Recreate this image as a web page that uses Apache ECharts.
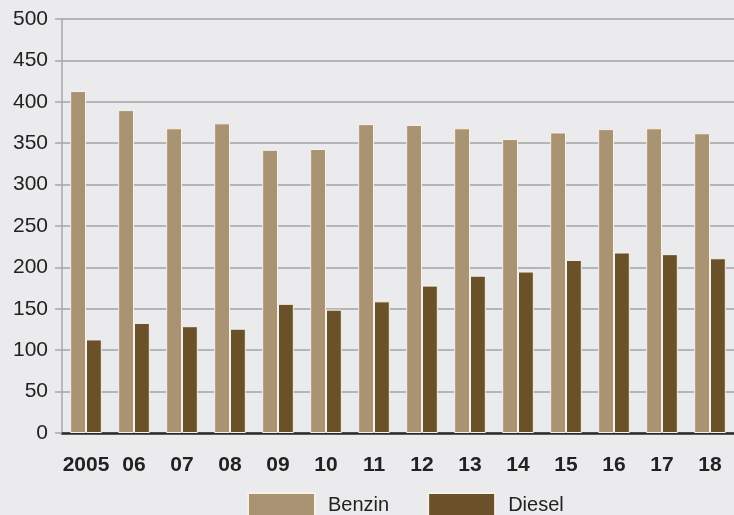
<!DOCTYPE html>
<html>
<head>
<meta charset="utf-8">
<script src="https://cdn.jsdelivr.net/npm/echarts@6/dist/echarts.min.js"></script>
<style>
html,body{margin:0;padding:0;background:#ebebed;}
#c{width:734px;height:515px;}
</style>
</head>
<body>
<div id="c"></div>
<script>
const categories = ['2005','06','07','08','09','10','11','12','13','14','15','16','17','18'];
const benzin = [413,390,368,374,342,343,373,372,368,355,363,367,368,362];
const diesel = [113,133,129,126,156,149,159,178,190,195,209,218,216,211];
const seriesNames = ['Benzin','Diesel'];

const chart = echarts.init(document.getElementById('c'));
const font = '"Liberation Sans", Arial, sans-serif';
chart.setOption({
  backgroundColor: '#ebebed',
  animation: false,
  textStyle: {fontFamily: font},
  grid: {left: 62, right: -6, top: 19, bottom: 82, containLabel: false},
  legend: {
    left: 247, top: 492, padding: 0,
    icon: 'rect', itemWidth: 67, itemHeight: 24, itemGap: 38,
    textStyle: {fontSize: 20, color: '#222', fontFamily: font, padding: [0,0,0,8]},
    data: seriesNames
  },
  xAxis: {
    type: 'category', data: categories,
    axisLine: {lineStyle: {color: '#2a2a2a', width: 2.5}},
    axisTick: {show: false},
    axisLabel: {interval: 0, fontSize: 21, fontWeight: 'bold', color: '#222', margin: 22, fontFamily: font}
  },
  yAxis: {
    type: 'value', min: 0, max: 500, interval: 50,
    axisLine: {show: true, lineStyle: {color: '#a8a8a8', width: 1.5}},
    axisTick: {show: true, length: 7, lineStyle: {color: '#a8a8a8', width: 1.5}},
    axisLabel: {fontSize: 21, color: '#222', margin: 14, fontFamily: font},
    splitLine: {lineStyle: {color: '#a2a2a2', width: 1.5}}
  },
  series: [
    {name: seriesNames[0], type: 'bar', data: benzin, barWidth: '33%', barGap: '0%',
     itemStyle: {color: '#a99373', borderColor: '#f6f2ea', borderWidth: 1}},
    {name: seriesNames[1], type: 'bar', data: diesel, barWidth: '33%', barGap: '0%',
     itemStyle: {color: '#6b5129', borderColor: '#f6f2ea', borderWidth: 1}}
  ]
});
</script>
</body>
</html>
